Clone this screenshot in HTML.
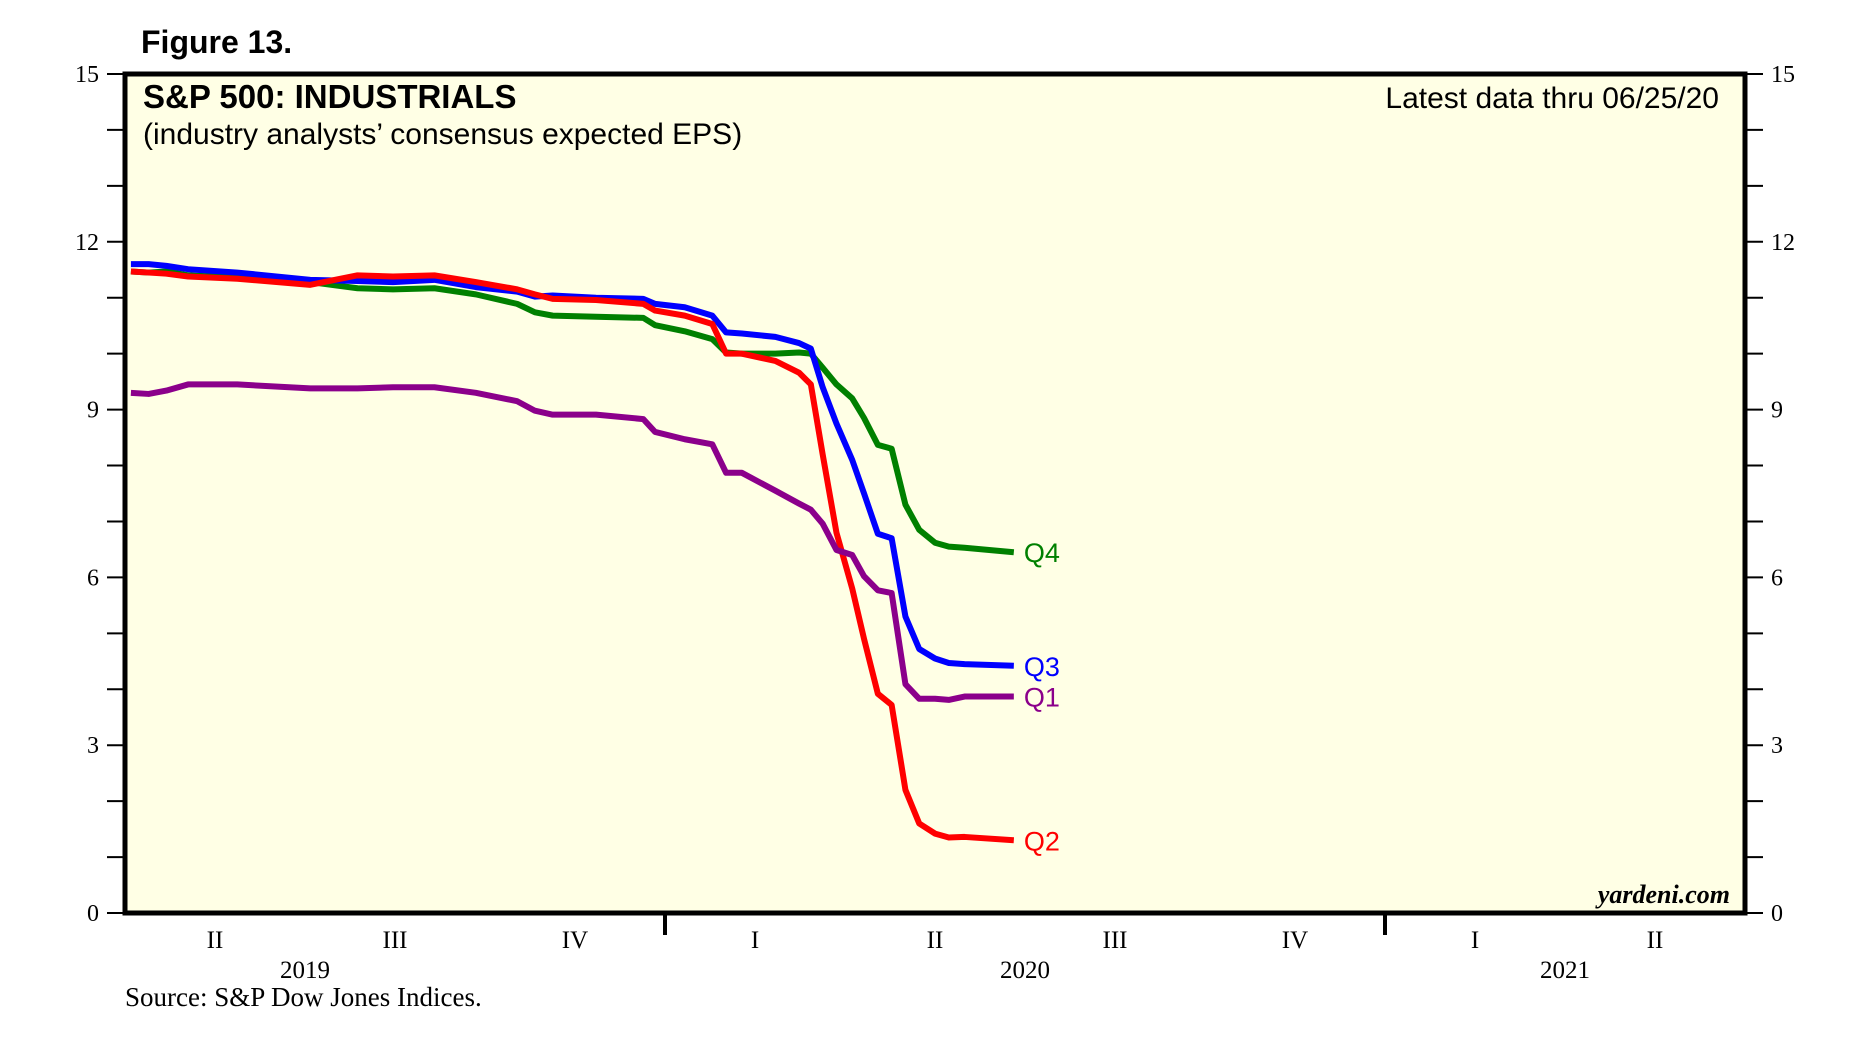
<!DOCTYPE html>
<html><head><meta charset="utf-8"><style>
html,body{margin:0;padding:0;background:#fff;width:1867px;height:1048px;overflow:hidden}
svg text{font-family:"Liberation Sans",sans-serif}
.serif{font-family:"Liberation Serif",serif}
</style></head><body>
<svg id="chart" width="1867" height="1048" viewBox="0 0 1867 1048" xmlns="http://www.w3.org/2000/svg">
<text x="141" y="53" font-size="32" font-weight="bold">Figure 13.</text>
<rect x="125" y="74" width="1620" height="839" fill="#ffffe5" stroke="#000" stroke-width="5"/>
<text x="143" y="108" font-size="33" font-weight="bold">S&amp;P 500: INDUSTRIALS</text>
<text x="143" y="144" font-size="30">(industry analysts’ consensus expected EPS)</text>
<text x="1719" y="108" font-size="30" text-anchor="end">Latest data thru 06/25/20</text>
<text class="serif" x="1730" y="903" font-size="26" font-weight="bold" font-style="italic" text-anchor="end">yardeni.com</text>
<text class="serif" x="125" y="1006" font-size="27">Source: S&amp;P Dow Jones Indices.</text>
<g id="axes"></g>
<g id="series"></g>
</svg>
<script>
const days = [3,12,21,32,57,94,118,136,157,178,199,208,217,239,263,269,284,298,305,313,330,342,348,354,361,369,375,382,389,396,403,411,418,426,451];
const q1 = [9.30,9.28,9.34,9.45,9.45,9.38,9.38,9.40,9.40,9.30,9.15,8.98,8.91,8.91,8.83,8.60,8.47,8.38,7.87,7.87,7.55,7.32,7.21,6.96,6.49,6.40,6.02,5.77,5.72,4.09,3.83,3.83,3.81,3.87,3.87];
const q2 = [11.47,11.45,11.43,11.38,11.34,11.23,11.40,11.38,11.40,11.28,11.15,11.06,10.98,10.96,10.89,10.77,10.68,10.53,10.0,10.0,9.87,9.66,9.45,8.2,6.8,5.8,4.9,3.92,3.72,2.2,1.6,1.42,1.35,1.36,1.30];
const q3 = [11.6,11.6,11.57,11.51,11.45,11.32,11.30,11.28,11.32,11.19,11.11,11.02,11.04,11.0,10.98,10.89,10.83,10.68,10.38,10.36,10.30,10.19,10.09,9.4,8.75,8.1,7.5,6.78,6.7,5.3,4.72,4.55,4.47,4.45,4.42];
const q4 = [11.47,11.45,11.47,11.40,11.36,11.28,11.17,11.15,11.17,11.06,10.89,10.74,10.68,10.66,10.64,10.51,10.40,10.26,10.02,10.0,10.0,10.02,10.0,9.75,9.45,9.2,8.85,8.37,8.30,7.3,6.85,6.62,6.55,6.53,6.45];
const yTicks = [0,3,6,9,12,15];
const quarterLabels = ["II","III","IV","I","II","III","IV","I","II"];
const yearLabels = ["2019","2020","2021"];

const NS="http://www.w3.org/2000/svg";
const X0=125,X1=1745,Y0=913,Y1=74,TOTALDAYS=822;
const xs=d=>X0+d*(X1-X0)/TOTALDAYS;
const ys=v=>Y0-v*(Y0-Y1)/15;
const axes=document.getElementById('axes'), ser=document.getElementById('series');
function mk(tag,attrs,parent){const e=document.createElementNS(NS,tag);for(const k in attrs)e.setAttribute(k,attrs[k]);parent.appendChild(e);return e;}

for(let v=0;v<=15;v++){
  const l=mk('line',{x1:X0-18,x2:X0,y1:ys(v),y2:ys(v),stroke:'#000','stroke-width':2},axes);
  
  
  const r=mk('line',{x1:X1,x2:X1+18,y1:ys(v),y2:ys(v),stroke:'#000','stroke-width':2},axes);
  
  
}
yTicks.forEach(v=>{
  const t=mk('text',{x:X0-26,y:ys(v)+8,'font-size':24,'text-anchor':'end',class:'serif'},axes);
  t.textContent=v;
  
  
  const t2=mk('text',{x:X1+26,y:ys(v)+8,'font-size':24,class:'serif'},axes);
  t2.textContent=v;
  
  
});
const qw=(X1-X0)/9;
quarterLabels.forEach((q,i)=>{
  const t=mk('text',{x:X0+qw*(i+0.5),y:948,'font-size':25,'text-anchor':'middle',class:'serif'},axes);
  t.textContent=q;
  
  
});
[3,7].forEach(i=>{
  const l=mk('line',{x1:X0+qw*i,x2:X0+qw*i,y1:Y0,y2:935,stroke:'#000','stroke-width':4},axes);
  
  
});
const yearPos=[1,5,8];
yearLabels.forEach((y,i)=>{
  const t=mk('text',{x:X0+qw*yearPos[i],y:978,'font-size':25,'text-anchor':'middle',class:'serif'},axes);
  t.textContent=y;
  
  
});

const series=[[q4,'#008000','Q4'],[q3,'#0000ff','Q3'],[q2,'#ff0000','Q2'],[q1,'#8b008b','Q1']];
series.forEach(([vals,col,name])=>{
  const p=mk('polyline',{points:vals.map((v,i)=>xs(days[i])+','+ys(v)).join(' '),fill:'none',stroke:col,'stroke-width':6,'stroke-linejoin':'round'},ser);
  
  
  const last=vals[vals.length-1];
  const t=mk('text',{x:xs(days[days.length-1])+10,y:ys(last)+10,'font-size':27,fill:col},ser);
  t.textContent=name;
  
  
});
</script>
</body></html>
